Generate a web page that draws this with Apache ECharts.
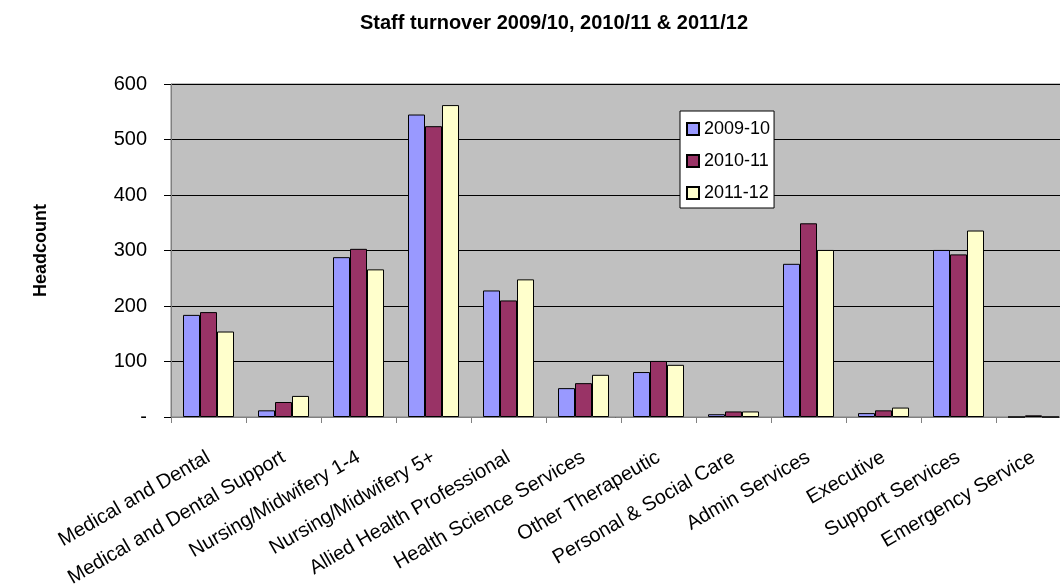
<!DOCTYPE html>
<html>
<head>
<meta charset="utf-8">
<script src="https://cdn.jsdelivr.net/npm/echarts@6/dist/echarts.min.js"></script>
<style>html,body{margin:0;padding:0;background:#fff}#c{width:1060px;height:587px}</style>
</head>
<body>
<div id="c"></div>
<script>
var categories = ['Medical and Dental','Medical and Dental Support','Nursing/Midwifery 1-4','Nursing/Midwifery 5+','Allied Health Professional','Health Science Services','Other Therapeutic','Personal & Social Care','Admin Services','Executive','Support Services','Emergency Service'];
var s2009 = [184, 12, 288, 545, 228, 52, 81, 5, 276, 7, 301, 0];
var s2010 = [189, 27, 303, 524, 210, 61, 101, 10, 349, 12, 293, 3];
var s2011 = [154, 38, 266, 562, 248, 76, 94, 10, 301, 17, 336, 0];
var yTicks = {min: 0, max: 600, interval: 100};

var FONT = '"Liberation Sans", Arial, sans-serif';
var chart = echarts.init(document.getElementById('c'));
function bar(name, data, color) {
  return {
    name: name, type: 'bar', data: data, barGap: '0%', barCategoryGap: '32%',
    itemStyle: {color: color, borderColor: '#000', borderWidth: 1},
    emphasis: {disabled: true}
  };
}
chart.setOption({
  animation: false,
  textStyle: {fontFamily: FONT},
  title: {
    text: 'Staff turnover 2009/10, 2010/11 & 2011/12',
    left: 355, top: 8,
    textStyle: {fontFamily: FONT, fontSize: 20, fontWeight: 'bold', color: '#000'}
  },
  legend: {
    orient: 'vertical', left: 680, top: 111,
    backgroundColor: '#fff', borderColor: '#000', borderWidth: 1,
    padding: [9, 4, 6, 6], itemGap: 14, itemWidth: 12, itemHeight: 12,
    icon: 'rect',
    textStyle: {fontFamily: FONT, fontSize: 18, color: '#000'},
    data: ['2009-10', '2010-11', '2011-12']
  },
  grid: {
    left: 171, top: 84, width: 900, height: 333,
    outerBoundsMode: 'none', containLabel: false,
    show: true, backgroundColor: '#C0C0C0', borderColor: '#808080', borderWidth: 1
  },
  xAxis: {
    type: 'category', data: categories,
    axisLine: {lineStyle: {color: '#808080', width: 1}},
    axisTick: {show: true, length: 6, lineStyle: {color: '#808080'}},
    axisLabel: {rotate: 30, interval: 0, margin: 39, fontFamily: FONT, fontSize: 20, color: '#000'}
  },
  yAxis: {
    type: 'value', min: yTicks.min, max: yTicks.max, interval: yTicks.interval,
    name: 'Headcount', nameLocation: 'middle', nameGap: 121,
    nameTextStyle: {fontFamily: FONT, fontSize: 18, fontWeight: 'bold', color: '#000'},
    axisLine: {show: true, lineStyle: {color: '#808080', width: 1}},
    axisTick: {show: true, length: 7, lineStyle: {color: '#000'}},
    axisLabel: {
      margin: 24, fontFamily: FONT, fontSize: 20, color: '#000',
      formatter: function (v) { return v === 0 ? '-' : String(v); }
    },
    splitLine: {show: true, lineStyle: {color: '#000', width: 1}}
  },
  series: [
    bar('2009-10', s2009, '#9999FF'),
    bar('2010-11', s2010, '#993366'),
    bar('2011-12', s2011, '#FFFFCC')
  ]
});
</script>
</body>
</html>
